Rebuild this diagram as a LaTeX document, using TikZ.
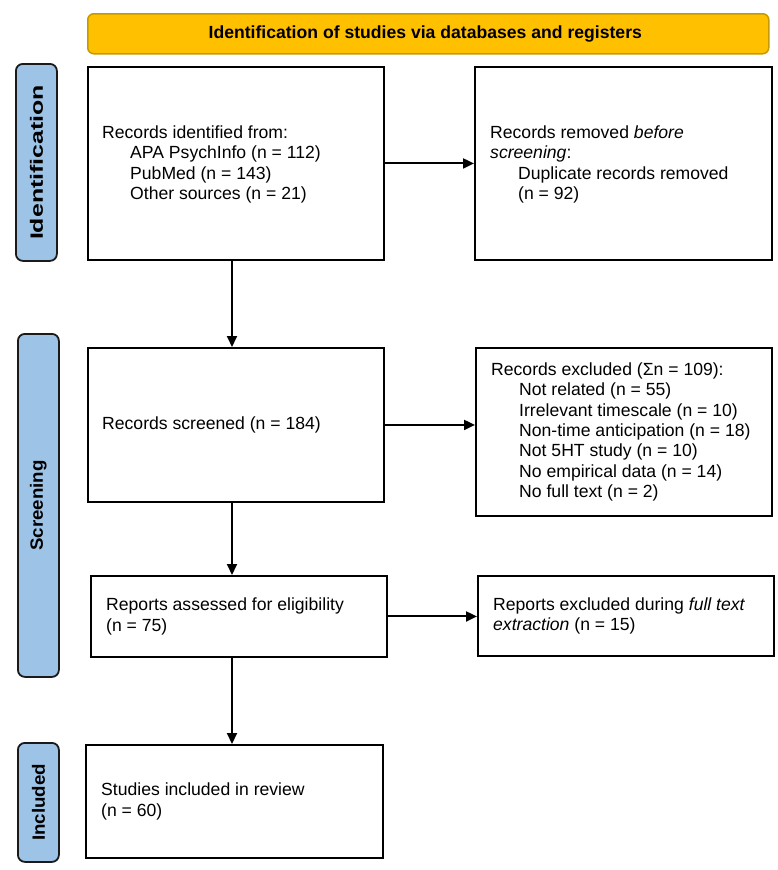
\documentclass[tikz,border=0pt]{standalone}
\usepackage{fontspec}
\setmainfont{Liberation Sans}
\usetikzlibrary{arrows.meta,calc}
\definecolor{bannerfill}{HTML}{FFC000}
\definecolor{bannerdraw}{HTML}{C49A00}
\definecolor{sidefill}{HTML}{9DC3E6}
\definecolor{sidedraw}{HTML}{1A1A1A}
\begin{document}
\begin{tikzpicture}[x=1pt,y=-1pt,
  box/.style={draw=black, line width=1.9pt, fill=white, inner sep=0pt, anchor=north west},
  banner/.style={draw=bannerdraw, line width=1.5pt, fill=bannerfill, rounded corners=6pt, inner sep=0pt, anchor=north west},
  sidebar/.style={draw=sidedraw, line width=1.8pt, fill=sidefill, rounded corners=7pt, inner sep=0pt, anchor=north west},
  txt/.style={anchor=west, align=left, inner sep=0pt, font=\fontsize{17.6pt}{20.3pt}\selectfont},
  sidetxt/.style={rotate=90, inner sep=0pt, font=\fontsize{17.8pt}{20pt}\selectfont\bfseries},
  arr/.style={line width=2pt, -{Triangle[length=11pt,width=10pt]}}
]
\useasboundingbox (0,0) rectangle (778,870);

% banner
\node[banner, minimum width=681pt, minimum height=40pt] (ban) at (87,13) {};
\node[inner sep=0pt, font=\fontsize{17.6pt}{20pt}\selectfont\bfseries] (bantxt) at ([xshift=-3pt]ban.center) {Identification of studies via databases and registers};

% side bars
\node[sidebar, minimum width=41pt, minimum height=197pt] (s1) at (15,63) {};
\node[sidetxt] (s1t) at (s1.center) {\scalebox{1.4}[1]{Identification}};
\node[sidebar, minimum width=41pt, minimum height=343pt] (s2) at (17,333) {};
\node[sidetxt] (s2t) at (s2.center) {\scalebox{1.05}[1]{Screening}};
\node[sidebar, minimum width=41pt, minimum height=119pt] (s3) at (17,742) {};
\node[sidetxt] (s3t) at (s3.center) {\scalebox{1.05}[1]{Included}};

% boxes
\node[box, minimum width=296pt, minimum height=193pt] (A) at (87,66) {};
\node[box, minimum width=297pt, minimum height=193pt] (B) at (474,66) {};
\node[box, minimum width=296pt, minimum height=154pt] (C) at (87,347) {};
\node[box, minimum width=296pt, minimum height=168pt] (D) at (475,347) {};
\node[box, minimum width=296pt, minimum height=81pt] (E) at (90,575) {};
\node[box, minimum width=296pt, minimum height=80pt] (F) at (477,575) {};
\node[box, minimum width=297pt, minimum height=113pt] (G) at (85,744) {};

% texts
\node[txt] (At) at ([xshift=15pt,yshift=-1pt]A.west) {Records identified from:\\
\hspace*{28pt}APA PsychInfo (n = 112)\\
\hspace*{28pt}PubMed (n = 143)\\
\hspace*{28pt}Other sources (n = 21)};
\node[txt] (Bt) at ([xshift=16pt,yshift=-1pt]B.west) {Records removed \textit{before}\\
\textit{screening}:\\
\hspace*{28pt}Duplicate records removed\\
\hspace*{28pt}(n = 92)};
\node[txt] (Ct) at ([xshift=15pt]C.west) {Records screened (n = 184)};
\node[txt] (Dt) at ([xshift=16pt]D.west) {Records excluded (Σn = 109):\\
\hspace*{28pt}Not related (n = 55)\\
\hspace*{28pt}Irrelevant timescale (n = 10)\\
\hspace*{28pt}Non-time anticipation (n = 18)\\
\hspace*{28pt}Not 5HT study (n = 10)\\
\hspace*{28pt}No empirical data (n = 14)\\
\hspace*{28pt}No full text (n = 2)};
\node[txt] (Et) at ([xshift=16pt]E.west) {Reports assessed for eligibility\\(n = 75)};
\node[txt] (Ft) at ([xshift=16pt]F.west) {Reports excluded during \textit{full text}\\\textit{extraction} (n = 15)};
\node[txt] (Gt) at ([xshift=16pt]G.west) {Studies included in review\\(n = 60)};

% connectors
\coordinate (spine) at (232,0);
\draw[arr] (A.east) -- (A.east -| B.west);
\draw[arr] (A.south -| spine) -- (C.north -| spine);
\draw[arr] (C.east) -- (C.east -| D.west);
\draw[arr] (C.south -| spine) -- (E.north -| spine);
\draw[arr] (E.east) -- (E.east -| F.west);
\draw[arr] (E.south -| spine) -- (G.north -| spine);
\end{tikzpicture}
\end{document}
